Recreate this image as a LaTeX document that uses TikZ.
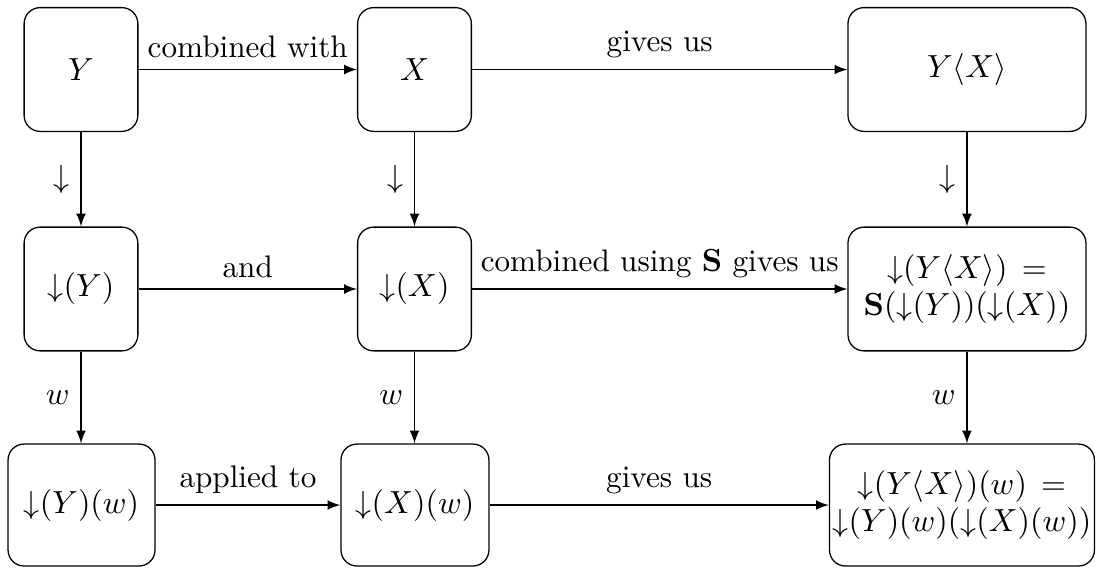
\documentclass[tikz,border=0pt]{standalone}
\usepackage{amsmath}
\usetikzlibrary{calc}

\newcommand{\dn}{\mathord{\downarrow}}

\begin{document}
\begin{tikzpicture}[
  every node/.style={font=\fontsize{9.75pt}{11.7pt}\selectfont},
  box/.style={draw, rounded corners=5pt, align=center,
    minimum width=1.25cm, minimum height=1.36cm},
  arr/.style={->, >=latex},
]
  \useasboundingbox (0,0) rectangle (12.066,-6.275);
  % top row: Y, X and Y<X>
  \node[box] (Y)  at (0.890,-0.764) {$Y$};
  \node[box] (X)  at (4.555,-0.764) {$X$};
  \node[box, minimum width=2.615cm] (YX) at (10.626,-0.764) {$Y\langle X\rangle$};
  % middle row
  \node[box] (dY) at (0.890,-3.176) {$\dn(Y)$};
  \node[box] (dX) at (4.555,-3.176) {$\dn(X)$};
  \node[box, minimum width=2.615cm] (dYX) at (10.626,-3.176)
    {$\dn(Y\langle X\rangle)\,=$\\$\mathbf{S}(\dn(Y))(\dn(X))$};
  % bottom row
  \node[box, minimum width=1.615cm, minimum height=1.34cm] (dYw) at (0.896,-5.55) {$\dn(Y)(w)$};
  \node[box, minimum width=1.626cm, minimum height=1.34cm] (dXw) at (4.560,-5.55) {$\dn(X)(w)$};
  \node[box, minimum width=2.857cm, minimum height=1.34cm, inner sep=1pt] (dYXw) at (10.571,-5.55)
    {$\dn(Y\langle X\rangle)(w)\,=$\\$\dn(Y)(w)(\dn(X)(w))$};

  % horizontal arrows
  \draw[arr] (Y) -- node[above] {combined with} (X);
  \draw[arr] (X) -- node[above] {gives us} (YX);
  \draw[arr] (dY) -- node[above] {and} (dX);
  \draw[arr] (dX) -- node[above] {combined using $\mathbf{S}$ gives us} (dYX);
  \draw[arr] (dYw) -- node[above] {applied to} (dXw);
  \draw[arr] (dXw) -- node[above] {gives us} (dYXw);

  % vertical arrows
  \draw[arr] (Y) -- node[left] {$\downarrow$} (dY);
  \draw[arr] (X) -- node[left] {$\downarrow$} (dX);
  \draw[arr] (YX) -- node[left] {$\downarrow$} (dYX);
  \draw[arr] (dY) -- node[left] {$w$} (dY |- dYw.north);
  \draw[arr] (dX) -- node[left] {$w$} (dX |- dXw.north);
  \draw[arr] (dYX) -- node[left] {$w$} (dYX |- dYXw.north);
\end{tikzpicture}
\end{document}
